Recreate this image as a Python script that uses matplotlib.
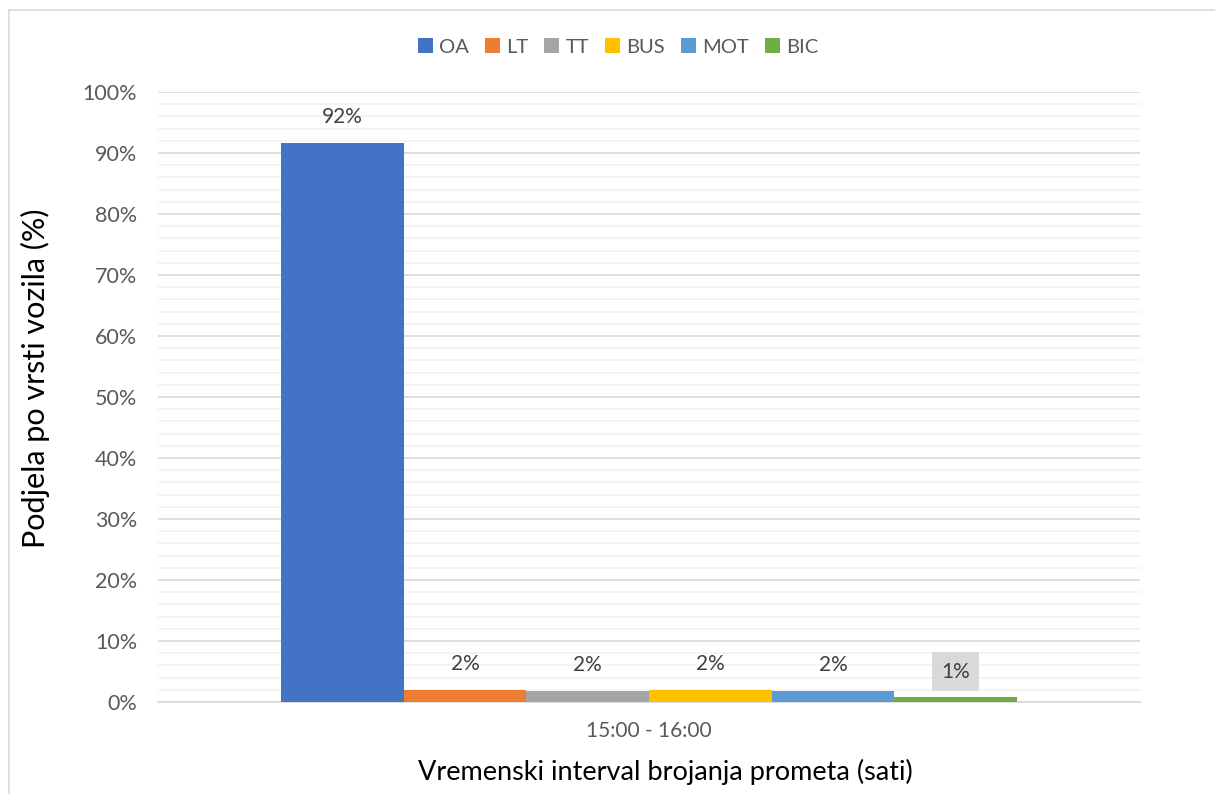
import matplotlib
matplotlib.use("Agg")
import matplotlib.pyplot as plt
from matplotlib.patches import Rectangle
import numpy as np

categories = ["15:00 - 16:00"]
series = ["OA", "LT", "TT", "BUS", "MOT", "BIC"]
values = [91.7, 2.0, 1.8, 2.0, 1.8, 0.8]
labels = ["92%", "2%", "2%", "2%", "2%", "1%"]
colors = ["#4472C4", "#ED7D31", "#A5A5A5", "#FFC000", "#5B9BD5", "#70AD47"]
yticks = [0, 10, 20, 30, 40, 50, 60, 70, 80, 90, 100]

plt.rcParams['font.family'] = ['Lato', 'DejaVu Sans']

fig = plt.figure(figsize=(12.15, 7.94), dpi=100)
ax = fig.add_axes([158/1215, 1-702/794, (1140-158)/1215, (702-92)/794])

# outer chart border (left and top only visible)
fig.patches.append(Rectangle((9/1215, -0.1), 1.2, 1-10/794+0.1, transform=fig.transFigure,
                             fill=False, edgecolor="#D9D9D9", linewidth=1.2, zorder=0))

n = len(series)
group_w = 736/982
bw = group_w / n
x0 = 0
for i, (s, v, lab, c) in enumerate(zip(series, values, labels, colors)):
    xc = x0 - group_w/2 + bw*(i+0.5)
    ax.bar(xc, v, width=bw, color=c, label=s, zorder=3)
    if s == "BIC":
        ax.text(xc, v + 4.2, lab, ha="center", va="center", fontsize=15, color="#404040",
                bbox=dict(boxstyle="square,pad=0.45", facecolor="#D9D9D9", edgecolor="none"), zorder=4)
    else:
        ax.text(xc, v + 4.2, lab, ha="center", va="center", fontsize=15, color="#404040", zorder=4)

ax.set_xlim(-0.5, 0.5)
ax.set_ylim(0, 100)
ax.set_xticks([0])
ax.set_xticklabels(categories, fontsize=15, color="#595959")
ax.set_yticks(yticks)
ax.set_yticklabels([f"{t}%" for t in yticks], fontsize=15.5, color="#595959")
ax.set_yticks(np.arange(0, 101, 2), minor=True)
ax.tick_params(axis="both", length=0)
ax.tick_params(axis="y", pad=15)
ax.tick_params(axis="y", which="minor", length=0)
ax.tick_params(axis="x", pad=14)
ax.grid(axis="y", which="major", color="#D9D9D9", linewidth=1.2, zorder=0)
ax.grid(axis="y", which="minor", color="#F2F2F2", linewidth=1.2, zorder=0)
ax.set_axisbelow(True)
for sp in ["top", "right", "left"]:
    ax.spines[sp].set_visible(False)
ax.spines["bottom"].set_color("#D9D9D9")
ax.spines["bottom"].set_linewidth(1.2)

ax.set_ylabel("Podjela po vrsti vozila (%)", fontsize=22, color="black")
ax.yaxis.set_label_coords((35-158)/982, (702-378)/610)
ax.set_xlabel("Vremenski interval brojanja prometa (sati)", fontsize=19.5, color="black")
ax.xaxis.set_label_coords((665-158)/982, (702-772)/610)
ax.xaxis.label.set_va("center")
ax.yaxis.label.set_va("center")

leg = fig.legend(loc="center", bbox_to_anchor=(618/1215, 1-47/794), ncol=6, frameon=False,
                 fontsize=14.5, handlelength=0.75, handleheight=0.75, handletextpad=0.3,
                 columnspacing=0.8, labelcolor="#595959")

fig.savefig("out.png", dpi=100)
